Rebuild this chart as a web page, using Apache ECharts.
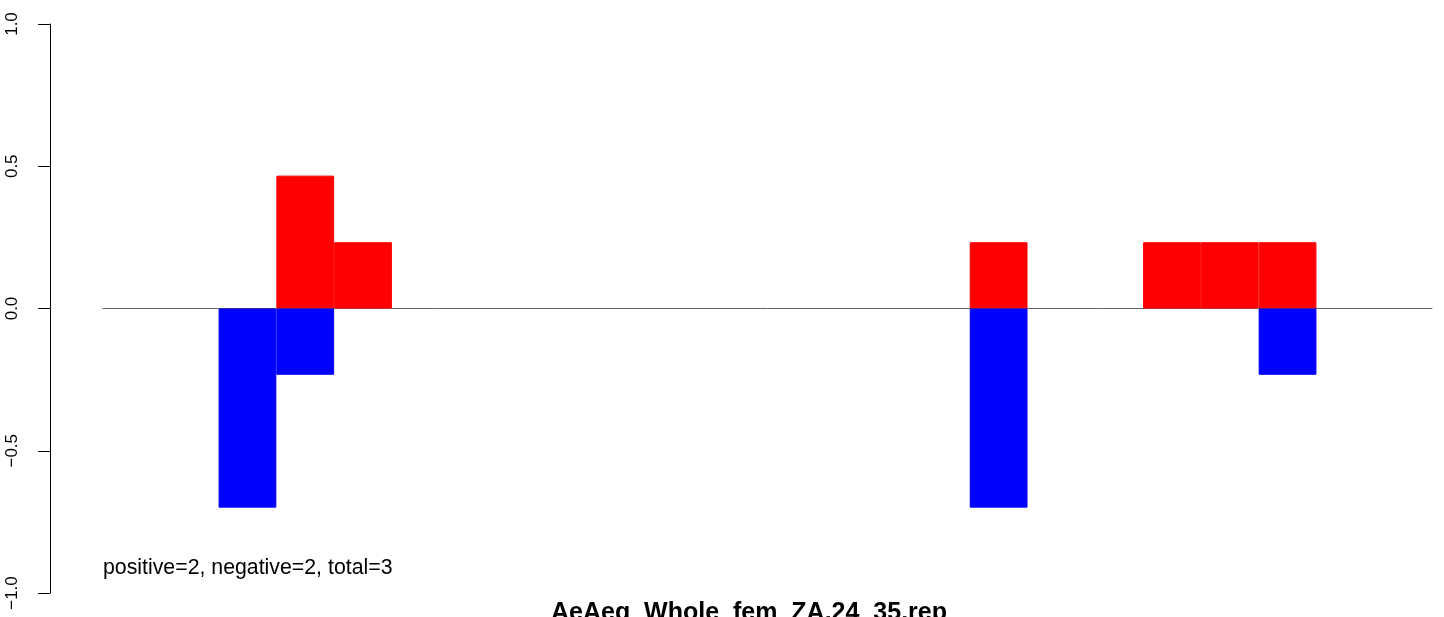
<!DOCTYPE html>
<html>
<head>
<meta charset="utf-8">
<script src="https://cdn.jsdelivr.net/npm/echarts@6/dist/echarts.min.js"></script>
<style>
  html, body { margin: 0; padding: 0; background: #fff; }
  #chart { width: 1444px; height: 617px; }
</style>
</head>
<body>
<div id="chart"></div>
<script>
// 23 bins along the x direction, one value per bin
const bins = ['1','2','3','4','5','6','7','8','9','10','11','12','13','14','15','16','17','18','19','20','21','22','23'];
const positiveVals = [0, 0, 0, 0.467, 0.233, 0, 0, 0, 0, 0, 0, 0, 0, 0, 0, 0.233, 0, 0, 0.233, 0.233, 0.233, 0, 0];
const negativeVals = [0, 0, -0.7, -0.233, 0, 0, 0, 0, 0, 0, 0, 0, 0, 0, 0, -0.7, 0, 0, 0, 0, -0.233, 0, 0];
const yTicks = [-1, -0.5, 0, 0.5, 1];
const titleText = 'AeAeg_Whole_fem_ZA.24_35.rep';
const noteText = 'positive=2, negative=2, total=3';

const font = '"Liberation Sans", Arial, Helvetica, sans-serif';
const chart = echarts.init(document.getElementById('chart'));

// empty bins are left out so no zero-height bar is drawn
function skipZero(arr) {
  return arr.map(function (v) { return v === 0 ? '-' : v; });
}

chart.setOption({
  animation: false,
  backgroundColor: '#fff',
  grid: { left: 103, right: 12, top: 24, bottom: 24 },
  xAxis: {
    type: 'category',
    data: bins,
    boundaryGap: true,
    axisLine: { show: true, onZero: true, lineStyle: { color: '#666', width: 1 } },
    axisTick: { show: false },
    axisLabel: { show: false },
    splitLine: { show: false }
  },
  yAxis: {
    type: 'value',
    min: -1,
    max: 1,
    interval: 0.5,
    offset: 53,
    axisLine: { show: true, lineStyle: { color: '#000', width: 1 } },
    axisTick: { show: true, length: 12, lineStyle: { color: '#000', width: 1 } },
    axisLabel: {
      rotate: 90,
      margin: 29,
      color: '#000',
      fontSize: 17,
      fontFamily: font,
      formatter: function (v) {
        if (yTicks.indexOf(v) < 0) return '';
        return (v < 0 ? '\u2212' : '') + Math.abs(v).toFixed(1);
      }
    },
    splitLine: { show: false }
  },
  series: [
    {
      type: 'bar',
      data: skipZero(positiveVals),
      barWidth: '100%',
      barGap: '-100%',
      itemStyle: { color: '#ff0000', borderColor: '#ff0000', borderWidth: 1 },
      silent: true
    },
    {
      type: 'bar',
      data: skipZero(negativeVals),
      barWidth: '100%',
      barGap: '-100%',
      itemStyle: { color: '#0000ff', borderColor: '#0000ff', borderWidth: 1 },
      silent: true
    }
  ],
  graphic: [
    {
      type: 'text',
      left: 103,
      top: 558,
      style: { text: noteText, fontSize: 21.3, fontFamily: font, fill: '#000' }
    },
    {
      type: 'text',
      x: 749,
      y: 601,
      style: { text: titleText, fontSize: 25, fontWeight: 'bold', fontFamily: font, fill: '#000', textAlign: 'center' }
    }
  ]
});
</script>
</body>
</html>
